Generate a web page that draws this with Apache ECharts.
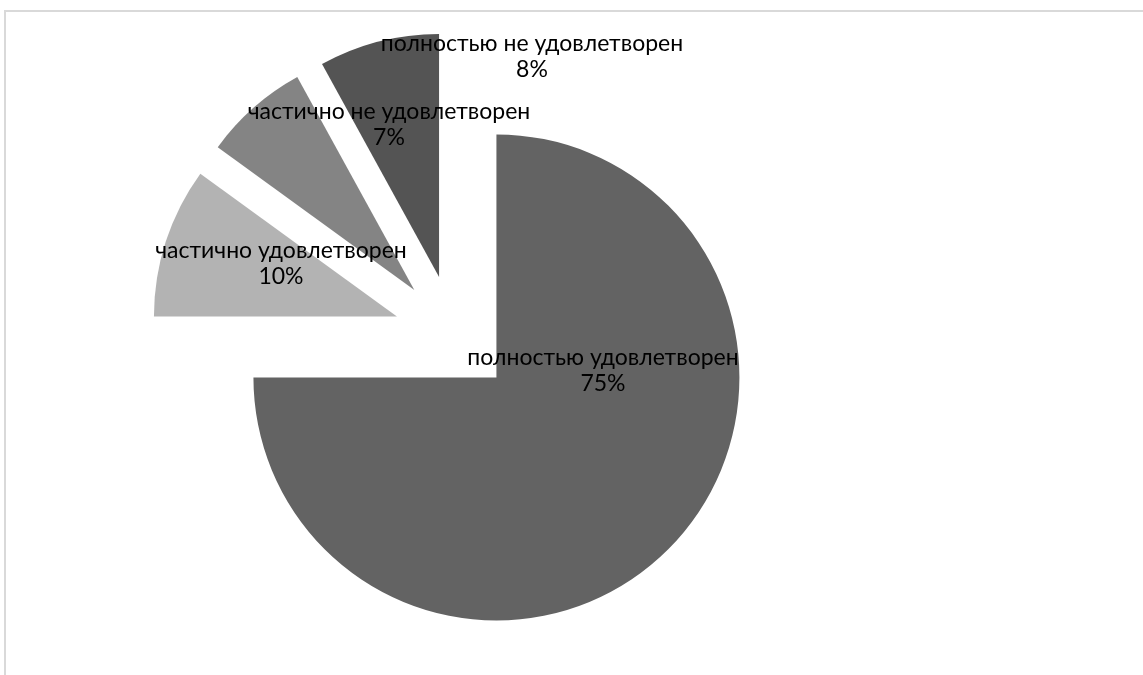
<!DOCTYPE html>
<html>
<head>
<meta charset="utf-8">
<script src="https://cdn.jsdelivr.net/npm/echarts@6/dist/echarts.min.js"></script>
<style>
html,body{margin:0;padding:0;background:#fff;}
#chart{width:1143px;height:675px;}
</style>
</head>
<body>
<div id="chart"></div>
<script>
var categories = ['полностью удовлетворен', 'частично удовлетворен', 'частично не удовлетворен', 'полностью не удовлетворен'];
var values = [75, 10, 7, 8];
var percentLabels = ['75%', '10%', '7%', '8%'];

var sliceColors = ['#636363', '#b3b3b3', '#848484', '#545454'];
var labelPositions = [[603, 371], [281, 264], [389, 125], [532, 57]];

var chart = echarts.init(document.getElementById('chart'), null, {renderer: 'canvas'});
var data = categories.map(function (c, i) {
  return {name: c, value: values[i], selected: true, itemStyle: {color: sliceColors[i]}};
});
var graphics = [{
  type: 'rect',
  shape: {x: 5, y: 11, width: 1160, height: 700},
  style: {fill: 'none', stroke: '#d9d9d9', lineWidth: 2},
  silent: true
}];
categories.forEach(function (c, i) {
  graphics.push({
    type: 'text',
    x: labelPositions[i][0],
    y: labelPositions[i][1],
    z: 100,
    silent: true,
    style: {
      text: c + '\n' + percentLabels[i],
      fill: '#000000',
      fontFamily: 'Lato, Carlito, sans-serif',
      fontSize: 23,
      lineHeight: 26,
      align: 'center',
      verticalAlign: 'middle'
    }
  });
});
chart.setOption({
  animation: false,
  backgroundColor: '#ffffff',
  graphic: graphics,
  series: [{
    type: 'pie',
    center: [454, 335],
    radius: [0, 243],
    startAngle: 90,
    clockwise: true,
    selectedMode: 'multiple',
    selectedOffset: 60,
    emphasis: {disabled: true},
    itemStyle: {borderWidth: 0},
    labelLine: {show: false},
    label: {show: false},
    data: data
  }]
});
</script>
</body>
</html>
